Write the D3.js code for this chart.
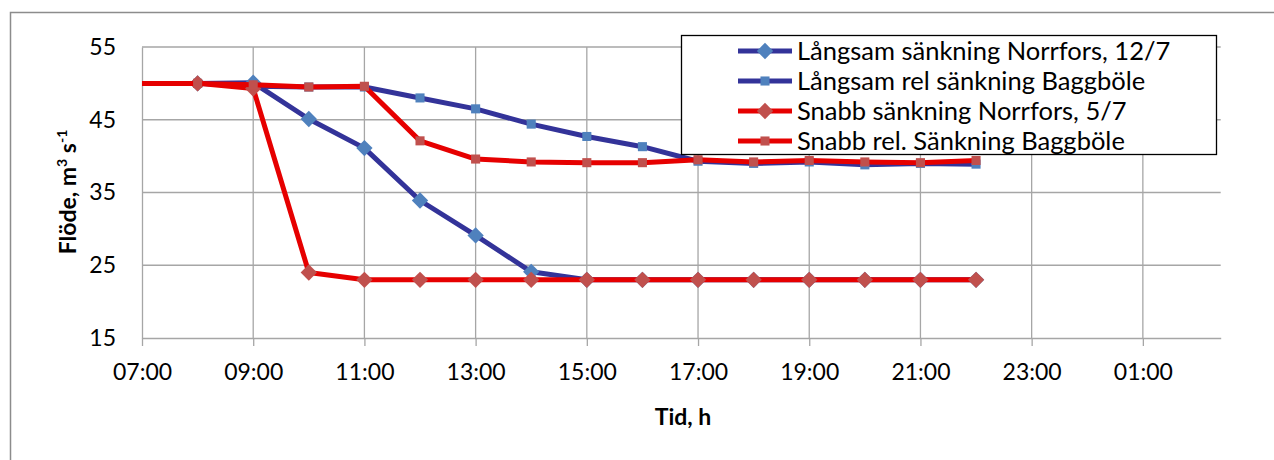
<!DOCTYPE html>
<html><head><meta charset="utf-8">
<script src="https://cdn.jsdelivr.net/npm/d3@7"></script>
<style>
html,body{margin:0;padding:0;background:#fff;}
svg{display:block;font-family:Lato,"Open Sans",sans-serif;}
</style></head>
<body><svg id="chart" width="1274" height="460"></svg>
<script>
// ---- data ----
const hours = [7, 8, 9, 10, 11, 12, 13, 14, 15, 16, 17, 18, 19, 20, 21, 22];
const langsamNorrfors = [null, 50, 50.1, 45.1, 41.1, 33.9, 29.1, 24.1, 23, 23, 23, 23, 23, 23, 23, 23];
const langsamBaggbole = [null, 50, 49.6, 49.5, 49.5, 48.0, 46.5, 44.4, 42.7, 41.3, 39.3, 39.0, 39.2, 38.8, 39.0, 38.9];
const snabbNorrfors   = [50, 50, 49.3, 24.0, 23, 23, 23, 23, 23, 23, 23, 23, 23, 23, 23, 23];
const snabbBaggbole   = [50, 50, 49.8, 49.5, 49.6, 42.1, 39.6, 39.2, 39.1, 39.1, 39.5, 39.2, 39.4, 39.2, 39.1, 39.4];
const seriesNames = ["Långsam sänkning Norrfors, 12/7", "Långsam rel sänkning Baggböle",
                     "Snabb sänkning Norrfors, 5/7", "Snabb rel. Sänkning Baggböle"];
const xTicks = [7, 9, 11, 13, 15, 17, 19, 21, 23, 25];
const yTicks = [15, 25, 35, 45, 55];
const xDomain = [7, 26.4];
const yDomain = [15, 55];
const markerFromHour = 8;

const series = [
  {name: seriesNames[0], values: langsamNorrfors, line: "#333399", mark: "#4F81BD", shape: d3.symbolDiamond2, size: 170},
  {name: seriesNames[1], values: langsamBaggbole, line: "#333399", mark: "#4F81BD", shape: d3.symbolSquare2, size: 105},
  {name: seriesNames[2], values: snabbNorrfors, line: "#E60000", mark: "#C0504D", shape: d3.symbolDiamond2, size: 170},
  {name: seriesNames[3], values: snabbBaggbole, line: "#E60000", mark: "#C0504D", shape: d3.symbolSquare2, size: 105}
];

const svg = d3.select("#chart");
const L = 142, R = 1220.7, T = 47, B = 338;
const x = d3.scaleLinear().domain(xDomain).range([L, R]);
const y = d3.scaleLinear().domain(yDomain).range([B, T]);

// outer border
svg.append("path").attr("d", "M10.5,480 V12.5 H1300")
  .attr("fill", "none").attr("stroke", "#8c8c8c").attr("stroke-width", 1.5);

// grid
const grid = svg.append("g").attr("stroke", "#a6a6a6").attr("stroke-width", 1.3);
yTicks.filter(v => v > yDomain[0]).forEach(v => {
  grid.append("line").attr("x1", L).attr("x2", R).attr("y1", y(v)).attr("y2", y(v));
});
xTicks.filter(v => v > xDomain[0]).forEach(v => {
  grid.append("line").attr("x1", x(v)).attr("x2", x(v)).attr("y1", T).attr("y2", B);
});

// axes
const fmt = h => String(h % 24).padStart(2, "0") + ":00";
const xAxis = svg.append("g").attr("transform", `translate(0,${B})`)
  .call(d3.axisBottom(x).tickValues(xTicks).tickFormat(fmt).tickSizeInner(8).tickSizeOuter(0).tickPadding(18));
const yAxis = svg.append("g").attr("transform", `translate(${L},0)`)
  .call(d3.axisLeft(y).tickValues(yTicks).tickSize(0).tickPadding(26));
[xAxis, yAxis].forEach(a => {
  a.select(".domain").attr("stroke", "#a6a6a6").attr("stroke-width", 1.3);
  a.selectAll(".tick line").attr("stroke", "#a6a6a6").attr("stroke-width", 1.3);
  a.selectAll("text").attr("fill", "#000").style("font-size", "23px").style("font-family", "Lato");
});
xAxis.selectAll("text").attr("dy", "0.71em");

// lines
const line = d3.line().defined(d => d.v != null).x(d => x(d.h)).y(d => y(d.v));
series.forEach(s => {
  const pts = hours.map((h, i) => ({h, v: s.values[i]}));
  svg.append("path").datum(pts).attr("d", line)
    .attr("fill", "none").attr("stroke", s.line).attr("stroke-width", 5).attr("stroke-linejoin", "round");
  svg.append("g").selectAll("path").data(pts.filter(p => p.v != null && p.h >= markerFromHour)).join("path")
    .attr("d", d3.symbol().type(s.shape).size(s.size))
    .attr("transform", p => `translate(${x(p.h)},${y(p.v)})`)
    .attr("fill", s.mark);
});

// axis titles
svg.append("text").attr("x", 683).attr("y", 425).attr("text-anchor", "middle")
  .style("font-weight", "bold").style("font-size", "23px").text("Tid, h");
const yt = svg.append("text").attr("transform", "translate(76,192) rotate(-90)")
  .attr("text-anchor", "middle").style("font-weight", "bold").style("font-size", "23px");
yt.append("tspan").text("Flöde, m");
yt.append("tspan").attr("dy", -9).style("font-size", "14px").text("3");
yt.append("tspan").attr("dy", 9).text(" s");
yt.append("tspan").attr("dy", -9).style("font-size", "14px").text("-1");

// legend
const lg = svg.append("g");
lg.append("rect").attr("x", 681.5).attr("y", 35.5).attr("width", 535).attr("height", 119)
  .attr("fill", "#fff").attr("stroke", "#000").attr("stroke-width", 1.3);
series.forEach((s, i) => {
  const cy = 51 + i * 30;
  lg.append("line").attr("x1", 738).attr("x2", 792).attr("y1", cy).attr("y2", cy)
    .attr("stroke", s.line).attr("stroke-width", 5);
  lg.append("path").attr("d", d3.symbol().type(s.shape).size(s.size))
    .attr("transform", `translate(765,${cy})`).attr("fill", s.mark);
  lg.append("text").attr("x", 797).attr("y", cy).attr("dy", "0.36em")
    .style("font-size", "25.5px").text(s.name);
});
</script></body></html>
